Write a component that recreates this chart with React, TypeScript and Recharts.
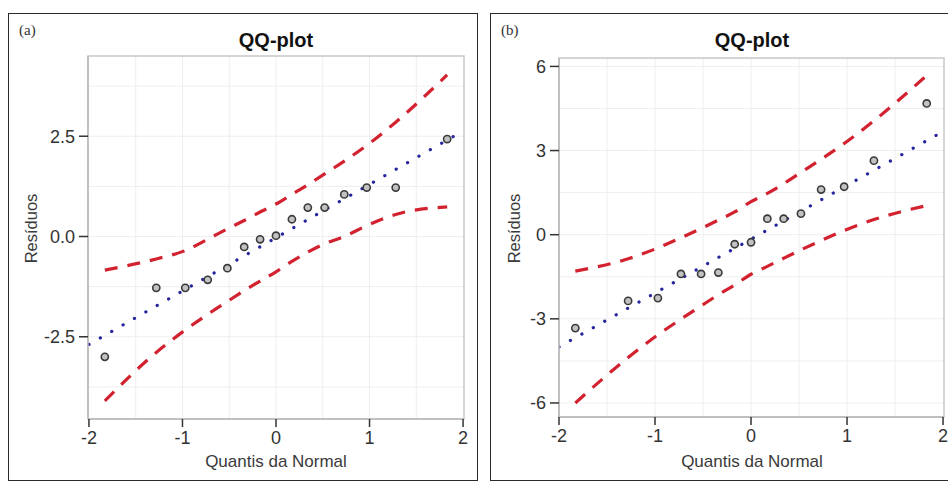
import React from "react";
import { CartesianGrid, ComposedChart, Line, ReferenceArea, Scatter, XAxis, YAxis } from "recharts";

// theoretical normal quantiles (shared by both panels)
const quantiles = [-1.83, -1.28, -0.97, -0.73, -0.52, -0.34, -0.17, 0, 0.17, 0.34, 0.52, 0.73, 0.97, 1.28, 1.83];

// panel (a)
const residA = [-3.0, -1.28, -1.28, -1.08, -0.79, -0.26, -0.07, 0.02, 0.43, 0.72, 0.72, 1.05, 1.22, 1.22, 2.43];
const upperA = [-0.84, -0.56, -0.35, -0.07, 0.19, 0.4, 0.61, 0.81, 1.05, 1.29, 1.56, 1.88, 2.27, 2.85, 4.03];
const lowerA = [-4.1, -2.89, -2.33, -1.94, -1.62, -1.35, -1.11, -0.88, -0.62, -0.39, -0.18, 0.0, 0.27, 0.55, 0.74];
const fitA = [-2.69, 2.63];

// panel (b)
const residB = [-3.33, -2.36, -2.26, -1.4, -1.4, -1.35, -0.34, -0.27, 0.57, 0.57, 0.75, 1.61, 1.71, 2.64, 4.68];
const upperB = [-1.3, -0.86, -0.47, -0.11, 0.22, 0.52, 0.81, 1.18, 1.47, 1.82, 2.22, 2.69, 3.25, 4.06, 5.68];
const lowerB = [-6.0, -4.38, -3.57, -3.01, -2.54, -2.14, -1.79, -1.41, -1.13, -0.84, -0.54, -0.21, 0.15, 0.54, 1.04];
const fitB = [-4.0, 3.68];

const fitX = [-2, 2];
const xTicks = [-2, -1, 0, 1, 2];
const xGrid = [-1.5, -1, -0.5, 0, 0.5, 1, 1.5];
const yTicksA = [-2.5, 0, 2.5];
const yGridA = [-3.75, -2.5, -1.25, 0, 1.25, 2.5, 3.75];
const yTicksB = [-6, -3, 0, 3, 6];
const yGridB = [-6, -4.5, -3, -1.5, 0, 1.5, 3, 4.5, 6];

const SANS = "'Liberation Sans', Arial, sans-serif";

const Dot = (props: any) => (
  <circle cx={props.cx} cy={props.cy} r={3.6} fill="#c2c2c2" stroke="#3a3a3a" strokeWidth={1.6} />
);

type PanelProps = {
  tag: string;
  left: number;
  width: number;
  margin: { top: number; right: number; bottom: number; left: number };
  xDomain: [number, number];
  yDomain: [number, number];
  yTicks: number[];
  yGrid: number[];
  fmt: (v: number) => string;
  resid: number[];
  upper: number[];
  lower: number[];
  fit: number[];
  titleX: number;
  yLabelX: number;
};

function Panel(p: PanelProps) {
  const height = 468;
  const rows = quantiles.map((q, i) => ({ q, r: p.resid[i], hi: p.upper[i], lo: p.lower[i] }));
  const fitRows = fitX.map((q, i) => ({ q, fit: p.fit[i] }));
  const text: React.CSSProperties = { position: "absolute", fontFamily: SANS, color: "#3a3a3a", whiteSpace: "nowrap" };
  return (
    <div style={{ position: "absolute", left: p.left, top: 13, width: p.width, height }}>
      <div
        style={{ position: "absolute", inset: 0, border: "1.5px solid #2a2a2a", boxSizing: "border-box" }}
      />
      <div style={{ position: "absolute", left: 11, top: 9, fontFamily: "'Liberation Serif', serif", fontSize: 15, color: "#333" }}>
        {p.tag}
      </div>
      <div style={{ ...text, left: p.titleX - 100, width: 200, top: 16, textAlign: "center", fontSize: 20, fontWeight: "bold", color: "#111" }}>
        QQ-plot
      </div>
      <div style={{ ...text, left: p.titleX - 120, width: 240, top: 439, textAlign: "center", fontSize: 17 }}>
        Quantis da Normal
      </div>
      <div
        style={{
          ...text,
          left: p.yLabelX - 60,
          width: 120,
          top: 206,
          textAlign: "center",
          fontSize: 16.5,
          transform: "rotate(-90deg)",
        }}
      >
        Resíduos
      </div>
      <div style={{ position: "absolute", left: 0, top: 0 }}>
        <ComposedChart width={p.width} height={height} data={rows} margin={p.margin}>
          <CartesianGrid stroke="#eeeeee" verticalValues={xGrid} horizontalValues={p.yGrid} />
          <ReferenceArea
            x1={p.xDomain[0]}
            x2={p.xDomain[1]}
            y1={p.yDomain[0]}
            y2={p.yDomain[1]}
            fill="none"
            stroke="#c8c8c8"
            strokeWidth={1.5}
          />
          <XAxis
            type="number"
            dataKey="q"
            domain={p.xDomain}
            ticks={xTicks}
            allowDataOverflow
            height={40}
            tickSize={8}
            tickMargin={4}
            axisLine={{ stroke: "#b8b8b8", strokeWidth: 1.5 }}
            tickLine={{ stroke: "#333", strokeWidth: 1.5 }}
            tick={{ fill: "#333", fontSize: 18, fontFamily: SANS }}
          />
          <YAxis
            type="number"
            domain={p.yDomain}
            ticks={p.yTicks}
            allowDataOverflow
            width={60}
            tickSize={9}
            tickMargin={4}
            tickFormatter={p.fmt}
            axisLine={{ stroke: "#b8b8b8", strokeWidth: 1.5 }}
            tickLine={{ stroke: "#333", strokeWidth: 1.5 }}
            tick={{ fill: "#333", fontSize: 18, fontFamily: SANS }}
          />
          <Line
            dataKey="hi"
            type="monotone"
            stroke="#d3222f"
            strokeWidth={3.2}
            strokeDasharray="13 10"
            dot={false}
            activeDot={false}
            isAnimationActive={false}
          />
          <Line
            dataKey="lo"
            type="monotone"
            stroke="#d3222f"
            strokeWidth={3.2}
            strokeDasharray="13 10"
            dot={false}
            activeDot={false}
            isAnimationActive={false}
          />
          <Scatter dataKey="r" shape={Dot} isAnimationActive={false} />
          <Line
            data={fitRows}
            dataKey="fit"
            type="linear"
            stroke="#25259e"
            strokeWidth={3.2}
            strokeDasharray="0.1 13"
            strokeLinecap="round"
            dot={false}
            activeDot={false}
            isAnimationActive={false}
          />
        </ComposedChart>
      </div>
    </div>
  );
}

export default function App() {
  return (
    <div
      style={{ position: "absolute", left: 0, top: 0, width: 948, height: 483, overflow: "hidden", background: "#fff" }}
    >
      <Panel
        tag="(a)"
        left={8}
        width={470}
        margin={{ top: 43, right: 14, bottom: 22, left: 20 }}
        xDomain={[-2.01, 2.01]}
        yDomain={[-4.55, 4.5]}
        yTicks={yTicksA}
        yGrid={yGridA}
        fmt={(v) => v.toFixed(1)}
        resid={residA}
        upper={upperA}
        lower={lowerA}
        fit={fitA}
        titleX={268}
        yLabelX={23}
      />
      <Panel
        tag="(b)"
        left={490}
        width={470}
        margin={{ top: 45, right: 16, bottom: 24, left: 9 }}
        xDomain={[-2, 2.01]}
        yDomain={[-6.5, 6.3]}
        yTicks={yTicksB}
        yGrid={yGridB}
        fmt={(v) => String(v)}
        resid={residB}
        upper={upperB}
        lower={lowerB}
        fit={fitB}
        titleX={262}
        yLabelX={24}
      />
    </div>
  );
}
